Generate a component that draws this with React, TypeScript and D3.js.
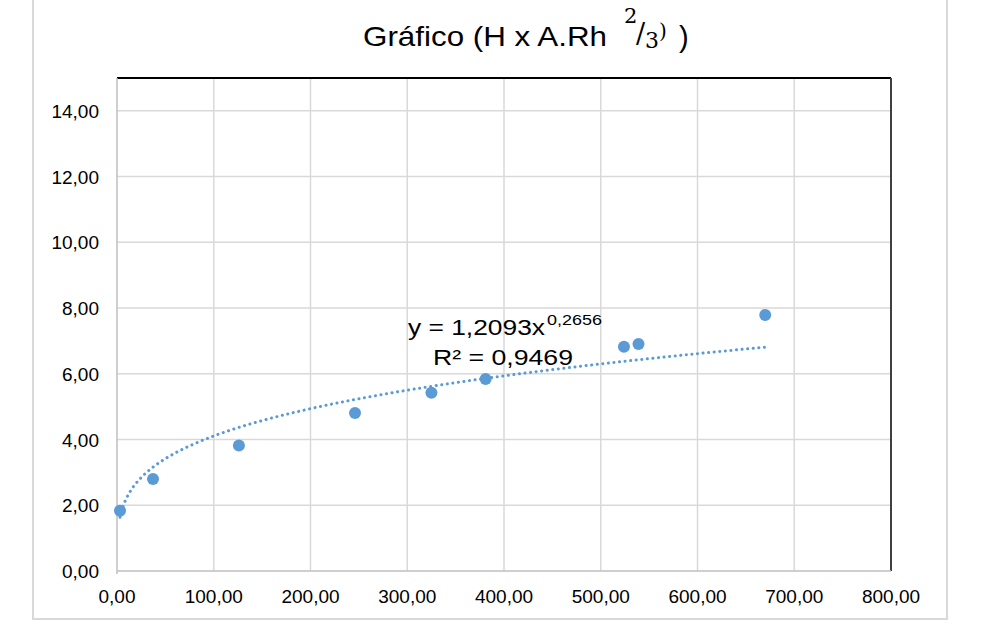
import React from 'react';
import * as d3 from 'd3';

// measured points (A.Rh^2/3 , H)
const xValues = [3.1, 37.2, 126, 246, 325, 381, 524, 539, 670];
const yValues = [1.83, 2.8, 3.82, 4.81, 5.42, 5.84, 6.82, 6.91, 7.79];

// power trendline shown on the chart
const trendCoef = 1.2093;
const trendExp = 0.2656;

const xTicks = [0, 100, 200, 300, 400, 500, 600, 700, 800];
const yTicks = [0, 2, 4, 6, 8, 10, 12, 14];

const fmt = (v: number) => v.toFixed(2).replace('.', ',');

const App = () => {
  const margin = { top: 78, right: 98, bottom: 65, left: 117 };
  const width = 989;
  const height = 636;

  const x = d3.scaleLinear().domain([0, 800]).range([margin.left, width - margin.right]);
  const y = d3.scaleLinear().domain([0, 15]).range([height - margin.bottom, margin.top]);

  const points = xValues.map((v, i) => ({ x: v, y: yValues[i] }));

  const xMin = d3.min(xValues) as number;
  const xMax = d3.max(xValues) as number;
  const trend = d3.range(0, 201).map((i) => {
    const xv = xMin + ((xMax - xMin) * i) / 200;
    return { x: xv, y: trendCoef * Math.pow(xv, trendExp) };
  });

  const line = d3
    .line<{ x: number; y: number }>()
    .x((d) => x(d.x))
    .y((d) => y(d.y))
    .curve(d3.curveMonotoneX);

  const font = 'Arial, "Liberation Sans", sans-serif';
  const serif = '"Cambria Math", "DejaVu Serif", "Liberation Serif", serif';
  const blue = '#5b9bd5';

  const [x0, x1] = x.range();
  const [y0, y1] = y.range();

  return (
    <svg
      width={width}
      height={height}
      style={{ position: 'absolute', left: 0, top: 0, background: '#fff' }}
    >
      {/* outer chart frame */}
      <path d="M33,0 V619 H947 V0" fill="none" stroke="#d9d9d9" strokeWidth={2} />

      {/* title */}
      <g fontFamily={font} fill="#000">
        <text x={363} y={46} fontSize={28} textLength={244} lengthAdjust="spacingAndGlyphs">
          Gráfico (H x A.Rh
        </text>
        <text x={624} y={23} fontSize={21} fontFamily={serif}>2</text>
        <text x={636} y={43} fontSize={27} fontFamily={serif}>/</text>
        <text x={645} y={48} fontSize={22} fontFamily={serif}>3</text>
        <text x={659} y={38} fontSize={20} fontFamily={serif}>)</text>
        <text x={679} y={47} fontSize={29}>)</text>
      </g>

      {/* gridlines */}
      <g stroke="#d9d9d9" strokeWidth={1.5}>
        {yTicks.slice(1).map((t) => (
          <line key={'gy' + t} x1={x0} x2={x1} y1={y(t)} y2={y(t)} />
        ))}
        {xTicks.slice(1, -1).map((t) => (
          <line key={'gx' + t} x1={x(t)} x2={x(t)} y1={y0} y2={y1} />
        ))}
      </g>

      {/* plot frame */}
      <line x1={x0} x2={x1} y1={y1} y2={y1} stroke="#000" strokeWidth={2} />
      <line x1={x1} x2={x1} y1={y1} y2={y0} stroke="#404040" strokeWidth={2} />
      <line x1={x0} x2={x0} y1={y1} y2={y0 + 3} stroke="#bfbfbf" strokeWidth={1.5} />
      <line x1={x0} x2={x1} y1={y0} y2={y0} stroke="#bfbfbf" strokeWidth={1.5} />

      {/* axis labels */}
      <g fontFamily={font} fontSize={19} fill="#000">
        {yTicks.map((t) => (
          <text key={'ly' + t} x={x0 - 18} y={y(t) + 7} textAnchor="end">
            {fmt(t)}
          </text>
        ))}
        {xTicks.map((t) => (
          <text key={'lx' + t} x={x(t)} y={603} textAnchor="middle">
            {fmt(t)}
          </text>
        ))}
      </g>

      {/* points */}
      <g fill={blue}>
        {points.map((p, i) => (
          <circle key={i} cx={x(p.x)} cy={y(p.y)} r={6} />
        ))}
      </g>

      {/* trendline */}
      <path
        d={line(trend) || ''}
        fill="none"
        stroke={blue}
        strokeWidth={3}
        strokeLinecap="round"
        strokeDasharray="0.1 5.5"
      />

      {/* trendline label */}
      <g fontFamily={font} fill="#000">
        <text x={408} y={335} fontSize={21.5} textLength={137} lengthAdjust="spacingAndGlyphs">
          y = 1,2093x
        </text>
        <text x={547} y={325} fontSize={14.5} textLength={55} lengthAdjust="spacingAndGlyphs">
          0,2656
        </text>
        <text x={433} y={365} fontSize={21.5} textLength={140} lengthAdjust="spacingAndGlyphs">
          R² = 0,9469
        </text>
      </g>
    </svg>
  );
};

export default App;
